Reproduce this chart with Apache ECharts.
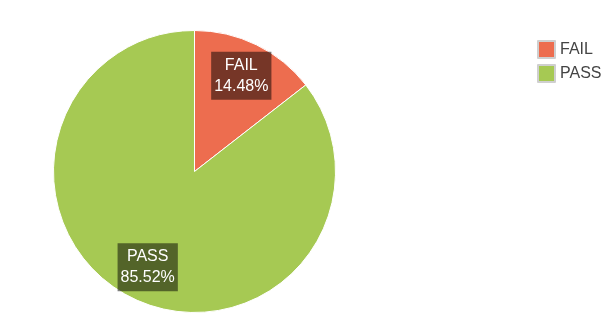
<!DOCTYPE html>
<html>
<head>
<meta charset="utf-8">
<script src="https://cdn.jsdelivr.net/npm/echarts@6/dist/echarts.min.js"></script>
<style>
html,body{margin:0;padding:0;background:#fff;}
#chart{width:612px;height:332px;}
</style>
</head>
<body>
<div id="chart"></div>
<script>
const categories = ['FAIL', 'PASS'];
const values = [14.48, 85.52];
const colors = ['#ed6d4f', '#a6c953'];

const data = categories.map((c, i) => ({ name: c, value: values[i], itemStyle: { color: colors[i] } }));

const chart = echarts.init(document.getElementById('chart'), null, { renderer: 'canvas' });
chart.setOption({
  animation: false,
  legend: {
    orient: 'vertical',
    left: 537,
    top: 40,
    padding: 0,
    itemWidth: 17,
    itemHeight: 17,
    itemGap: 5,
    icon: 'rect',
    data: categories,
    itemStyle: { borderColor: '#cfcfcf', borderWidth: 2 },
    textStyle: { fontFamily: 'Liberation Sans, Arial, sans-serif', fontSize: 16, color: '#444' }
  },
  series: [
    {
      type: 'pie',
      center: [194.5, 171.5],
      radius: [0, 141],
      startAngle: 90,
      clockwise: true,
      label: { show: false },
      labelLine: { show: false },
      itemStyle: { borderColor: '#fff', borderWidth: 1 },
      emphasis: { disabled: true },
      data: data
    },
    {
      type: 'pie',
      center: [194.5, 171.5],
      radius: [66, 141],
      startAngle: 90,
      clockwise: true,
      silent: true,
      legendHoverLink: false,
      itemStyle: { color: 'rgba(0,0,0,0)' },
      emphasis: { disabled: true },
      label: {
        show: true,
        position: 'inside',
        formatter: p => p.name + '\n' + p.value.toFixed(2) + '%',
        color: '#fff',
        fontFamily: 'Liberation Sans, Arial, sans-serif',
        fontSize: 16,
        lineHeight: 21,
        backgroundColor: 'rgba(0,0,0,0.5)',
        padding: [3, 3, 3, 3],
        align: 'center'
      },
      labelLine: { show: false },
      data: categories.map((c, i) => ({ name: c, value: values[i] }))
    }
  ]
});
</script>
</body>
</html>
